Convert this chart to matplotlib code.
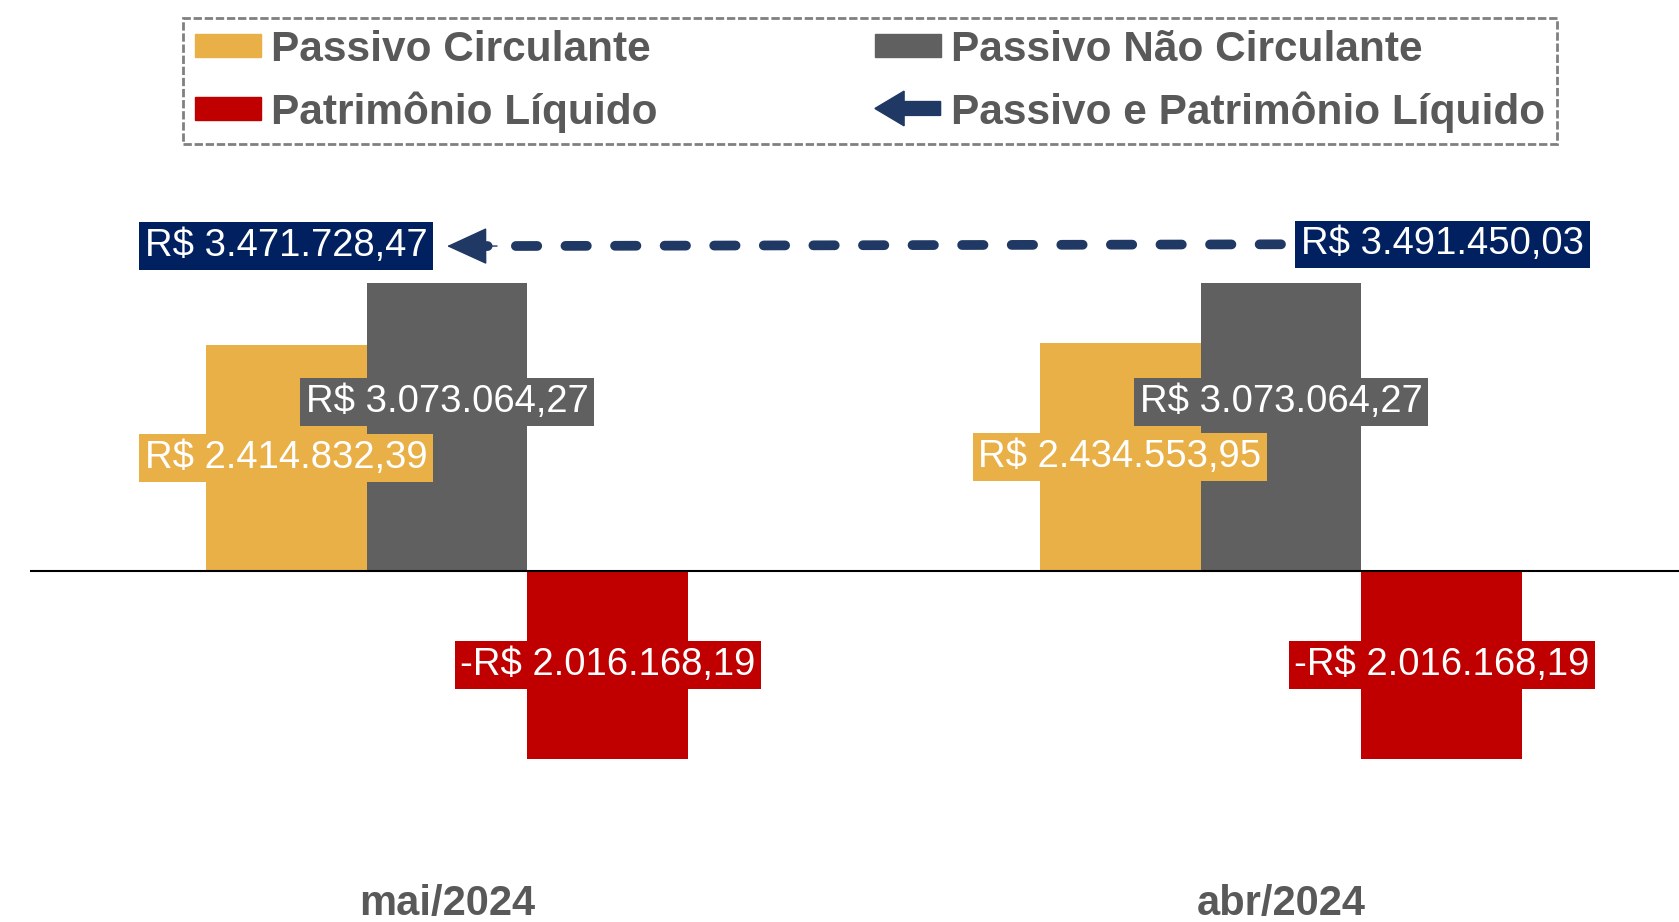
import matplotlib
matplotlib.use("Agg")
import matplotlib.pyplot as plt
import matplotlib.patches as mpatches
from matplotlib.legend_handler import HandlerPatch
import numpy as np

plt.rcParams['font.family'] = ['Liberation Sans', 'DejaVu Sans']

# Dados do balanço (passivo)
categories = ["mai/2024", "abr/2024"]
passivo_circulante = [2414832.39, 2434553.95]
passivo_nao_circulante = [3073064.27, 3073064.27]
patrimonio_liquido = [-2016168.19, -2016168.19]
passivo_e_pl = [3471728.47, 3491450.03]

# Cores
COR_PC = "#E9B048"
COR_PNC = "#606060"
COR_PL = "#C00000"
COR_LINHA = "#1F3864"
COR_TOTAL = "#002060"
COR_TEXTO = "#595959"

FS_ROTULO = 27.5


def brl(v):
    s = f"{abs(v):,.2f}".replace(",", "X").replace(".", ",").replace("X", ".")
    return ("-R$ " if v < 0 else "R$ ") + s


def make_legend_arrow(legend, orig_handle, xdescent, ydescent, width, height, fontsize):
    y = height / 2 - ydescent
    return mpatches.FancyArrow(width - xdescent, y, -width, 0, width=10,
                               head_width=25, head_length=21,
                               length_includes_head=True)


fig = plt.figure(figsize=(16.79, 9.22), dpi=100)
ax = fig.add_axes([30 / 1679, (922 - 870) / 922, 1668 / 1679, (870 - 150) / 922])

x = np.arange(len(categories))
w = 0.193

series = [
    (passivo_circulante, -w, COR_PC, 0),
    (passivo_nao_circulante, 0, COR_PNC, 18),
    (patrimonio_liquido, w, COR_PL, 0),
]
for vals, off, cor, dy in series:
    ax.bar(x + off, vals, width=w, color=cor, edgecolor='none', zorder=2)
    for xi, v in zip(x, vals):
        ax.annotate(brl(v), xy=(xi + off, v / 2), xytext=(0, dy),
                    textcoords='offset points', ha='center', va='center',
                    fontsize=FS_ROTULO, color='white', zorder=6,
                    bbox=dict(boxstyle='square,pad=0.15', fc=cor, ec='none'))

ax.axhline(0, color='black', lw=1.5, zorder=3)

# Linha do total (desenhada a partir de abr para que o padrão comece à direita)
ax.plot(x[::-1], passivo_e_pl[::-1], color=COR_LINHA, lw=7,
        dashes=(2.2, 2.9), dash_capstyle='round', zorder=4)
slope = passivo_e_pl[1] - passivo_e_pl[0]
ax.annotate('', xy=(x[0], passivo_e_pl[0]),
            xytext=(x[0] + 0.06, passivo_e_pl[0] + slope * 0.06),
            arrowprops=dict(arrowstyle='-|>,head_length=2.66,head_width=1.22',
                            mutation_scale=10, color=COR_LINHA, lw=1,
                            shrinkA=0, shrinkB=0), zorder=5)

ax.annotate(brl(passivo_e_pl[0]), xy=(x[0], passivo_e_pl[0]), xytext=(-14, 0),
            textcoords='offset points', ha='right', va='center', fontsize=FS_ROTULO,
            color='white', zorder=6,
            bbox=dict(boxstyle='square,pad=0.15', fc=COR_TOTAL, ec='none'))
ax.annotate(brl(passivo_e_pl[1]), xy=(x[1], passivo_e_pl[1]), xytext=(14.5, 0),
            textcoords='offset points', ha='left', va='center', fontsize=FS_ROTULO,
            color='white', zorder=6,
            bbox=dict(boxstyle='square,pad=0.15', fc=COR_TOTAL, ec='none'))

ax.set_xlim(-0.5, 1.5)
ax.set_ylim(-3.2e6, 4.5e6)
ax.set_xticks(x, categories)
ax.tick_params(axis='x', length=0, pad=10, labelsize=30, labelcolor=COR_TEXTO)
for t in ax.get_xticklabels():
    t.set_fontweight('bold')
ax.set_yticks([])
for s in ax.spines.values():
    s.set_visible(False)

# Legenda
handles = [
    mpatches.Patch(color=COR_PC, label="Passivo Circulante"),
    mpatches.Patch(color=COR_PL, label="Patrimônio Líquido"),
    mpatches.Patch(color=COR_PNC, label="Passivo Não Circulante"),
    mpatches.FancyArrow(0, 0, 1, 0, color=COR_LINHA, label="Passivo e Patrimônio Líquido"),
]
leg = fig.legend(handles=handles, loc='upper left', ncol=2,
                 bbox_to_anchor=(183 / 1679, 1 - 18 / 922),
                 borderaxespad=0, borderpad=0.28, handlelength=1.55,
                 handleheight=0.47, handletextpad=0.25, columnspacing=5.13,
                 labelspacing=0.5, fancybox=False, framealpha=1,
                 prop=dict(size=30.5, weight='bold'),
                 handler_map={mpatches.FancyArrow: HandlerPatch(patch_func=make_legend_arrow)})
for t in leg.get_texts():
    t.set_color(COR_TEXTO)
frame = leg.get_frame()
frame.set_edgecolor('#808080')
frame.set_linewidth(2)
frame.set_linestyle((0, (3, 1)))

fig.savefig("out.png", dpi=100)
